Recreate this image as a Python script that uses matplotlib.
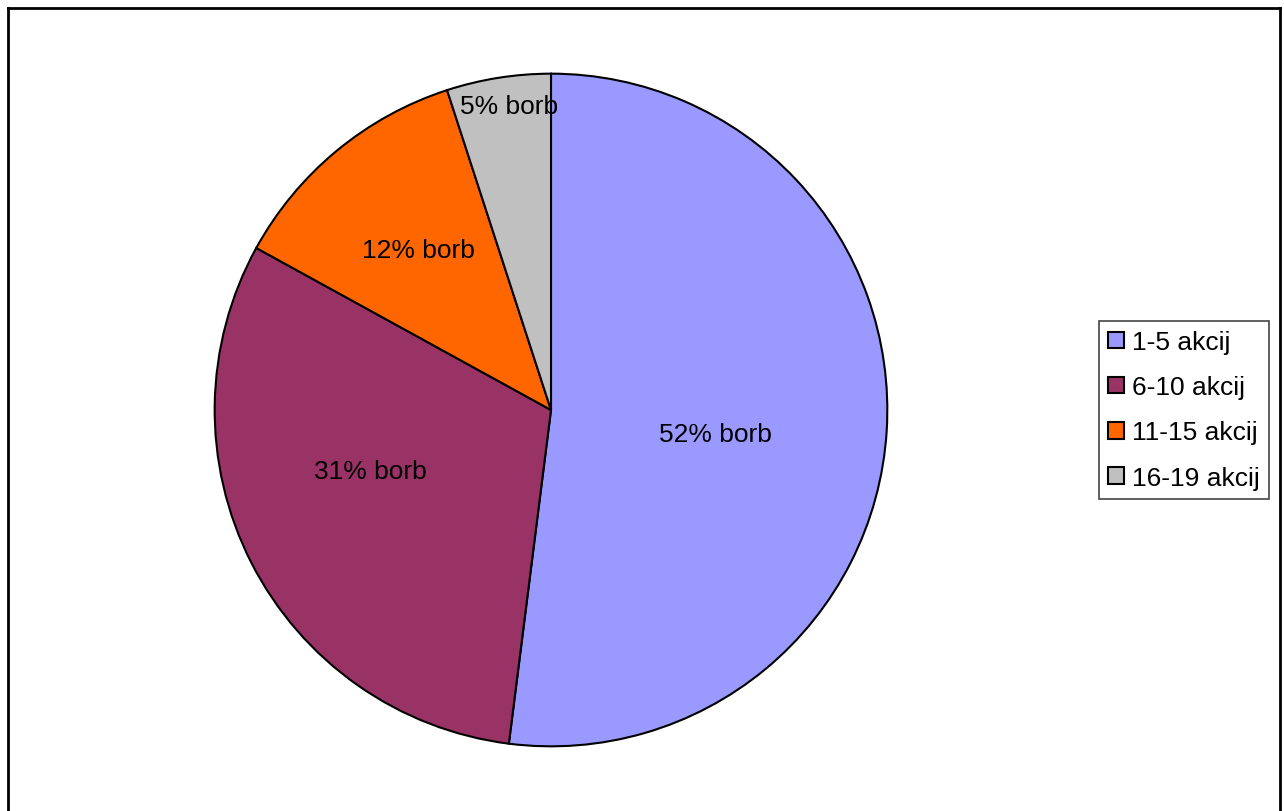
import matplotlib.pyplot as plt
from matplotlib.lines import Line2D
from matplotlib.patches import Patch

# podatki
kategorije = ['1-5 akcij', '6-10 akcij', '11-15 akcij', '16-19 akcij']
delezi = [52, 31, 12, 5]
oznake = ['52% borb', '31% borb', '12% borb', '5% borb']
barve = ['#9999FF', '#993366', '#FF6600', '#C0C0C0']

# polozaji napisov (v enotah polmera)
polozaji_oznak = [(0.49, -0.07), (-0.537, -0.18), (-0.395, 0.475), (-0.125, 0.905)]

plt.rcParams['font.family'] = ['Liberation Sans', 'DejaVu Sans']

W, H = 1284, 812
fig = plt.figure(figsize=(W / 100, H / 100), dpi=100)

cx, cy, r = 551, 411, 337
ax = fig.add_axes([(cx - r) / W, (H - cy - r) / H, 2 * r / W, 2 * r / H])

wedges, texts = ax.pie(delezi, colors=barve, startangle=90, counterclock=False,
                       labels=oznake, labeldistance=0.5,
                       wedgeprops=dict(edgecolor='black', linewidth=1.5),
                       textprops=dict(fontsize=19, color='black'))
for t, (x, y) in zip(texts, polozaji_oznak):
    t.set_position((x, y))
    t.set_ha('center')
    t.set_va('center')
ax.set_xlim(-1.002, 1.002)
ax.set_ylim(-1.002, 1.002)
ax.set_aspect('equal')
ax.axis('off')

# legenda
rocaji = [Patch(facecolor=c, edgecolor='black', linewidth=1.5) for c in barve]
leg = fig.legend(rocaji, kategorije, loc='upper left',
                 bbox_to_anchor=(1099 / W, 1 - 322 / H), bbox_transform=fig.transFigure,
                 fontsize=19, frameon=True, fancybox=False, framealpha=1,
                 edgecolor='#444444', handlelength=0.6, handleheight=0.6,
                 handletextpad=0.3, labelspacing=0.8, borderpad=0.35,
                 borderaxespad=0)
leg.get_frame().set_linewidth(1.2)

# okvir grafikona
lx, ty, rx = 7.5 / W, 1 - 8.5 / H, 1279.5 / W
fig.add_artist(Line2D([lx, lx], [0, ty], transform=fig.transFigure, color='black', lw=2))
fig.add_artist(Line2D([lx, rx], [ty, ty], transform=fig.transFigure, color='black', lw=2))
fig.add_artist(Line2D([rx, rx], [0, ty], transform=fig.transFigure, color='black', lw=2))

fig.savefig('out.png', dpi=100, facecolor='white')
